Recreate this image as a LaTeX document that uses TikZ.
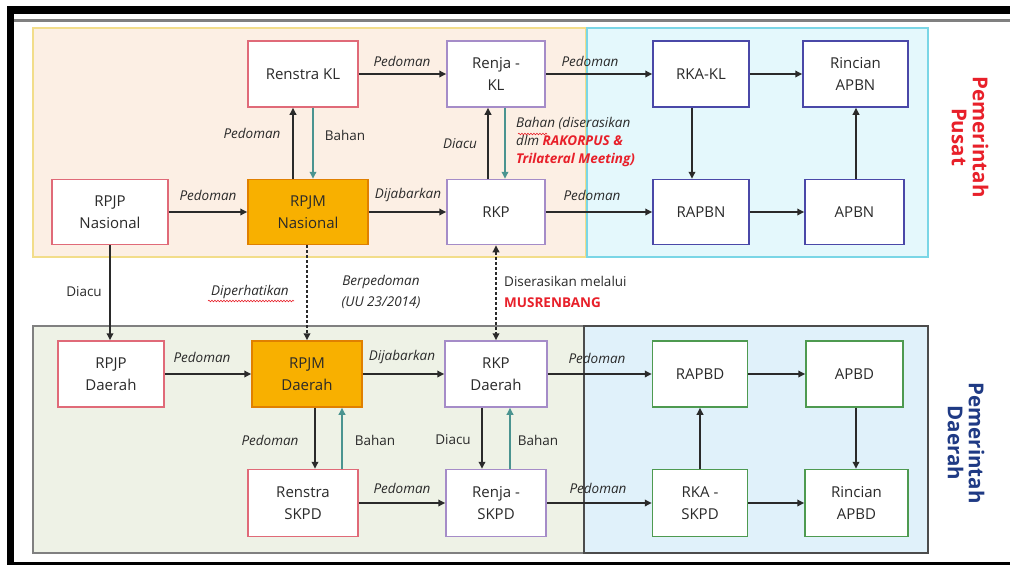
\documentclass[tikz,border=0pt]{standalone}
\usepackage{fontspec}
\setmainfont{Open Sans}
\usetikzlibrary{arrows.meta,calc,decorations.pathmorphing}
\definecolor{txt}{HTML}{2A2A2A}
\definecolor{redb}{HTML}{E06A78}
\definecolor{purb}{HTML}{A58CC8}
\definecolor{blub}{HTML}{4A48A8}
\definecolor{grnb}{HTML}{4E9A50}
\definecolor{orfill}{HTML}{F8B000}
\definecolor{orb}{HTML}{E08000}
\definecolor{tealc}{HTML}{4A9490}
\definecolor{peach}{HTML}{FCEFE4}
\definecolor{peachb}{HTML}{F2DD8A}
\definecolor{cyanf}{HTML}{E4F8FC}
\definecolor{cyanb}{HTML}{7AD6E6}
\definecolor{sage}{HTML}{EEF2E6}
\definecolor{lblue}{HTML}{E0F1FA}
\definecolor{redt}{HTML}{E8202A}
\definecolor{navy}{HTML}{1F3A84}
\begin{document}
\begin{tikzpicture}[x=1pt,y=-1pt,
 box/.style={draw, fill=white, line width=1.5pt, align=center, text=txt,
   font=\fontsize{15}{22}\selectfont, inner sep=0pt, minimum height=66pt},
 rbox/.style={box, draw=redb},
 pbox/.style={box, draw=purb},
 bbox/.style={box, draw=blub},
 gbox/.style={box, draw=grnb},
 obox/.style={box, draw=orb, fill=orfill},
 lab/.style={font=\fontsize{13.5}{18}\selectfont\itshape, text=txt, inner sep=1pt},
 labu/.style={font=\fontsize{13.5}{18}\selectfont, text=txt, inner sep=1pt},
 arr/.style={-{Triangle[length=7pt,width=6.5pt]}, line width=2pt, draw=txt},
 tarr/.style={-{Triangle[length=7pt,width=6.5pt]}, line width=2pt, draw=tealc},
 dsh/.style={arr, dash pattern=on 3pt off 2pt},
 squig/.style={draw=redt, line width=0.6pt, decorate, decoration={snake, amplitude=0.8pt, segment length=3pt}},
 side/.style={rotate=-90, align=center, font=\fontsize{20.5}{21}\selectfont\bfseries}
]
\useasboundingbox (0,0) rectangle (1010,565);
% frame
\fill[black] (7,6) rectangle (1010,565);
\fill[white] (14,14) rectangle (1010,562);
\draw[gray, line width=2.5pt] (14,20.5) -- (1010,20.5);
% regions
\draw[fill=peach, draw=peachb, line width=1.5pt] (33,28) rectangle (586,257);
\draw[fill=cyanf, draw=cyanb, line width=1.5pt] (587,28) rectangle (928,257);
\draw[fill=sage, draw=gray, line width=1.5pt] (33,326) rectangle (928,553);
\draw[fill=lblue, draw=black!70, line width=1.3pt] (584,326) rectangle (928,553);
% side labels
\node[side, text=redt] (lpusat) at (970,137) {Pemerintah\\Pusat};
\node[side, text=navy] (ldaerah) at (966,443) {Pemerintah\\Daerah};
% nodes top
\node[rbox, minimum width=110pt] (rkl) at (303,74) {Renstra KL};
\node[pbox, minimum width=98pt] (rjkl) at (496,74) {Renja -\\KL};
\node[bbox, minimum width=96pt] (rkakl) at (701,74) {RKA-KL};
\node[bbox, minimum width=105pt] (rincn) at (855.5,74) {Rincian\\APBN};
\node[rbox, minimum width=116pt, minimum height=65pt] (rpjpn) at (110,212) {RPJP\\Nasional};
\node[obox, minimum width=120pt, minimum height=65pt] (rpjmn) at (308,212) {RPJM\\Nasional};
\node[pbox, minimum width=98pt, minimum height=65pt] (rkp) at (496,212) {RKP};
\node[bbox, minimum width=96pt, minimum height=65pt] (rapbn) at (701,212) {RAPBN};
\node[bbox, minimum width=99pt, minimum height=65pt] (apbn) at (854.5,212) {APBN};
% nodes bottom
\node[rbox, minimum width=106pt] (rpjpd) at (111,374) {RPJP\\Daerah};
\node[obox, minimum width=110pt] (rpjmd) at (307,374) {RPJM\\Daerah};
\node[pbox, minimum width=102pt] (rkpd) at (496,374) {RKP\\Daerah};
\node[gbox, minimum width=95pt] (rapbd) at (700,374) {RAPBD};
\node[gbox, minimum width=97pt] (apbd) at (854.5,374) {APBD};
\node[rbox, minimum width=110pt, minimum height=67pt] (rensd) at (303,503) {Renstra\\SKPD};
\node[pbox, minimum width=100pt, minimum height=67pt] (renjd) at (496,503) {Renja -\\SKPD};
\node[gbox, minimum width=95pt, minimum height=67pt] (rkasd) at (700,503) {RKA -\\SKPD};
\node[gbox, minimum width=103pt, minimum height=67pt] (rincd) at (856.5,503) {Rincian\\APBD};
% top connectors
\draw[arr] (rkl) -- (rjkl);
\draw[arr] (rjkl) -- (rkakl);
\draw[arr] (rkakl) -- (rincn);
\draw[arr] ([xshift=-9pt]rkakl.south) -- ([xshift=-9pt]rkakl.south |- rapbn.north);
\draw[arr] (rpjpn) -- (rpjmn);
\draw[arr] (rpjmn) -- (rkp);
\draw[arr] (rkp) -- (rapbn);
\draw[arr] (rapbn) -- (apbn);
\draw[arr] ([xshift=1.5pt]apbn.north) -- ([xshift=1.5pt]apbn.north |- rincn.south);
\draw[arr] ([xshift=-15pt]rpjmn.north) -- ([xshift=-15pt]rpjmn.north |- rkl.south);
\draw[tarr] ([xshift=10pt]rkl.south) -- ([xshift=10pt]rkl.south |- rpjmn.north);
\draw[arr] ([xshift=-8pt]rkp.north) -- ([xshift=-8pt]rkp.north |- rjkl.south);
\draw[tarr] ([xshift=9pt]rjkl.south) -- ([xshift=9pt]rjkl.south |- rkp.north);
% middle connectors
\draw[arr] (rpjpn.south) -- (rpjpn.south |- rpjpd.north);
\draw[dsh] ([xshift=-1pt]rpjmn.south) -- ([xshift=-1pt]rpjmn.south |- rpjmd.north);
\draw[dsh, {Triangle[length=7pt,width=6.5pt]}-{Triangle[length=7pt,width=6.5pt]}] (rkp.south) -- (rkpd.north);
% bottom connectors
\draw[arr] (rpjpd) -- (rpjmd);
\draw[arr] (rpjmd) -- (rkpd);
\draw[arr] (rkpd) -- (rapbd);
\draw[arr] (rapbd) -- (apbd);
\draw[arr] ([xshift=1.5pt]apbd.south) -- ([xshift=1.5pt]apbd.south |- rincd.north);
\draw[arr] (rkasd.north) -- (rapbd.south);
\draw[arr] (rkasd) -- (rincd);
\draw[arr] (rensd) -- (renjd);
\draw[arr] (renjd) -- (rkasd);
\draw[arr] ([xshift=8pt]rpjmd.south) -- ([xshift=8pt]rpjmd.south |- rensd.north);
\draw[tarr] ([xshift=39pt]rensd.north) -- ([xshift=39pt]rensd.north |- rpjmd.south);
\draw[arr] ([xshift=-14pt]rkpd.south) -- ([xshift=-14pt]rkpd.south |- renjd.north);
\draw[tarr] ([xshift=14pt]renjd.north) -- ([xshift=14pt]renjd.north |- rkpd.south);
% labels top
\node[lab] (l1) at (402,61) {Pedoman};
\node[lab] (l2) at (590,61) {Pedoman};
\node[lab] (l3) at (208,195) {Pedoman};
\node[lab] (l4) at (408,195) {Dijabarkan};
\node[lab] (l5) at (592,195) {Pedoman};
\node[lab] (l6) at (252,133) {Pedoman};
\node[labu] (l7) at (345,135) {Bahan};
\node[lab] (l8) at (460,144) {Diacu};
\node[lab, anchor=north west, align=left] (l9) at (515,116)
  {Bahan (diserasikan\\dlm \textcolor{redt}{\bfseries RAKORPUS \&}\\\textcolor{redt}{\bfseries Trilateral Meeting)}};
\draw[squig] (518,134) -- (547,134);
% labels middle
\node[labu] (m1) at (84,292) {Diacu};
\node[lab] (m2) at (250,292) {Diperhatikan};
\draw[squig] (208,301) -- (294,301);
\node[lab, align=center, font=\fontsize{13.5}{21}\selectfont\itshape] (m3) at (381,292) {Berpedoman\\(UU 23/2014)};
\node[labu, anchor=west, align=left, font=\fontsize{13.5}{21}\selectfont] (m4) at (503,292) {Diserasikan melalui\\\textcolor{redt}{\bfseries MUSRENBANG}};
% labels bottom
\node[lab] (b1) at (202,357) {Pedoman};
\node[lab] (b2) at (402,357) {Dijabarkan};
\node[lab] (b3) at (597,358) {Pedoman};
\node[lab] (b4) at (270,440) {Pedoman};
\node[labu] (b5) at (375,440) {Bahan};
\node[labu] (b6) at (453,440) {Diacu};
\node[labu] (b7) at (538,440) {Bahan};
\node[lab] (b8) at (402,488) {Pedoman};
\node[lab] (b9) at (598,488) {Pedoman};
\end{tikzpicture}
\end{document}
